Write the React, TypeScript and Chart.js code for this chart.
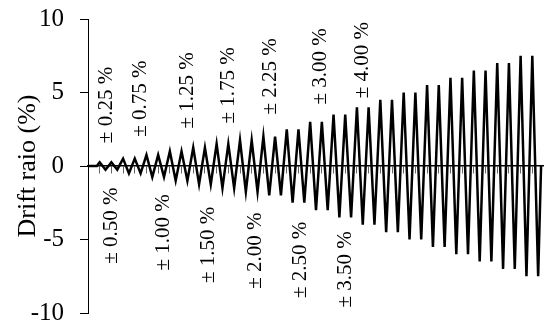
import { useEffect, useRef } from "react";
import { Chart, registerables } from "chart.js";

Chart.register(...registerables);

// Amplitude (%) of each loading cycle
const cycleAmplitudes = [
  0.25, 0.25, 0.5, 0.5, 0.75, 0.75, 1, 1, 1.25, 1.25, 1.5, 1.5, 1.75, 1.75,
  2, 2, 2.5, 2.5, 3, 3, 3.5, 3.5, 4, 4, 4.5, 4.5, 5, 5, 5.5, 5.5, 6, 6,
  6.5, 6.5, 7, 7, 7.5, 7.5,
];

const yMin = -10;
const yMax = 10;
const yStep = 5;
const yTitle = "Drift raio (%)";

// Amplitude annotations (rotated text), placed in data units
const noteLabels = [
  "± 0.25 %", "± 0.75 %", "± 1.25 %", "± 1.75 %", "± 2.25 %", "± 3.00 %", "± 4.00 %",
  "± 0.50 %", "± 1.00 %", "± 1.50 %", "± 2.00 %", "± 2.50 %", "± 3.50 %",
];
const noteX = [1.6, 4.53, 8.55, 11.98, 15.57, 19.85, 23.44, 2.05, 6.42, 10.27, 14.29, 18.14, 21.98];
const noteY = [4.15, 4.59, 5.14, 5.48, 6.1, 6.77, 7.2, -4.05, -4.52, -5.37, -5.75, -6.39, -7.04];

const SERIF = '"Liberation Serif", "Times New Roman", serif';

export default function App() {
  const ref = useRef<HTMLCanvasElement | null>(null);

  useEffect(() => {
    if (!ref.current) return;

    const points: { x: number; y: number }[] = [{ x: 0, y: 0 }, { x: 0.75, y: 0 }];
    cycleAmplitudes.forEach((a, i) => {
      points.push({ x: i + 1, y: a });
      points.push({ x: i + 1.5, y: -a });
    });
    points.push({ x: cycleAmplitudes.length + 0.75, y: 0 });

    const notesPlugin = {
      id: "notes",
      afterDatasetsDraw(chart: any) {
        const { ctx, scales } = chart;
        ctx.save();
        ctx.fillStyle = "#000";
        ctx.font = `21px ${SERIF}`;
        ctx.textAlign = "center";
        ctx.textBaseline = "middle";
        noteLabels.forEach((t, i) => {
          const px = scales.x.getPixelForValue(noteX[i]);
          const py = scales.y.getPixelForValue(noteY[i]);
          ctx.save();
          ctx.translate(px, py);
          ctx.rotate(-Math.PI / 2);
          ctx.fillText(t, 0, 0);
          ctx.restore();
        });
        ctx.restore();
      },
    };

    const chart = new Chart(ref.current, {
      type: "line",
      data: {
        datasets: [
          {
            data: points,
            borderColor: "#000",
            borderWidth: 2.5,
            pointRadius: 0,
            tension: 0,
            fill: false,
          },
        ],
      },
      options: {
        responsive: false,
        animation: false,
        devicePixelRatio: 1,
        layout: { padding: { top: 19, bottom: 12, left: 0, right: 0 } },
        plugins: { legend: { display: false }, tooltip: { enabled: false } },
        scales: {
          x: {
            type: "linear",
            position: { y: 0 } as any,
            min: 0,
            max: 39,
            ticks: { display: false, stepSize: 1 },
            grid: { drawOnChartArea: false, drawTicks: true, tickLength: 7, color: "#666", lineWidth: 1 },
            border: { display: true, color: "#000", width: 1.5 },
            afterFit(scale: any) {
              scale.height = 0;
            },
          },
          y: {
            type: "linear",
            min: yMin,
            max: yMax,
            ticks: {
              stepSize: yStep,
              color: "#000",
              padding: 16,
              font: { family: SERIF, size: 25, lineHeight: 1 },
            },
            grid: { drawOnChartArea: false, drawTicks: true, tickLength: 8, color: "#000", lineWidth: 1 },
            border: { display: true, color: "#000", width: 1 },
            title: {
              display: true,
              text: yTitle,
              color: "#000",
              font: { family: SERIF, size: 26, lineHeight: 1 },
              padding: { top: 15, bottom: 0 },
            },
            afterFit(scale: any) {
              scale.width = 88;
              scale.paddingTop = 0;
              scale.paddingBottom = 0;
            },
          },
        },
      },
      plugins: [notesPlugin],
    });

    return () => chart.destroy();
  }, []);

  return (
    <div style={{ position: "absolute", left: 0, top: 0, width: 544, height: 325, background: "#fff" }}>
      <canvas ref={ref} width={544} height={325} style={{ display: "block" }} />
    </div>
  );
}
